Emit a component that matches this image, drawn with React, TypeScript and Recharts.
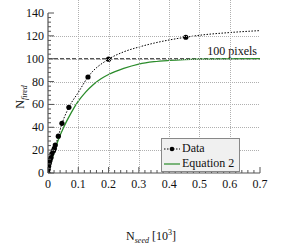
import React from "react";
import {
  ComposedChart,
  Line,
  Scatter,
  XAxis,
  YAxis,
  ReferenceLine,
  Legend,
} from "recharts";

// measured points (N_seed in 10^3, N_fired)
const seedData = [0, 0.001, 0.002, 0.004, 0.0066, 0.01, 0.013, 0.018, 0.021, 0.024, 0.034, 0.046, 0.069, 0.132, 0.2, 0.455];
const firedData = [0, 3.5, 6, 8.5, 11, 13.5, 17, 19.5, 21.5, 24.5, 32.2, 43.5, 57.5, 84, 99.6, 118.8];

// dotted curve through the data
const seedCurve = [0, 0.01, 0.02, 0.034, 0.046, 0.069, 0.1, 0.132, 0.2, 0.25, 0.3, 0.4, 0.455, 0.5, 0.6, 0.7];
const firedCurve = [0, 13, 20.5, 32, 43, 57.5, 70.5, 84, 99.6, 106, 110.2, 116.4, 118.8, 120.5, 122.9, 124.6];

// Equation 2
const seedEq = [0, 0.01, 0.02, 0.03, 0.04, 0.05, 0.06, 0.075, 0.1, 0.125, 0.15, 0.175, 0.2, 0.25, 0.3, 0.35, 0.4, 0.45, 0.5, 0.6, 0.7];
const firedEq = [0, 9.5, 18, 26, 33, 39, 44.5, 52, 62.8, 71, 77.5, 82.5, 86.2, 91.5, 95.3, 97.4, 98.5, 99.2, 99.6, 99.9, 100];

const xMajor = [0, 0.1, 0.2, 0.3, 0.4, 0.5, 0.6, 0.7];
const xLabels = ["0", "0.1", "0.2", "0.3", "0.4", "0.5", "0.6", "0.7"];
const yMajor = [0, 20, 40, 60, 80, 100, 120, 140];
const xTicks = Array.from({ length: 36 }, (_, i) => Math.round(i * 2) / 100);
const yTicks = Array.from({ length: 36 }, (_, i) => i * 4);

const SATURATION = 100;
const SAT_LABEL = "100 pixels";

const dataPts = seedData.map((x, i) => ({ x, y: firedData[i] }));
const curvePts = seedCurve.map((x, i) => ({ x, y: firedCurve[i] }));
const eqPts = seedEq.map((x, i) => ({ x, y: firedEq[i] }));

const W = 283;
const H = 247;
const M = { top: 13, right: 23, left: 0, bottom: 0 };
const Y_AXIS_W = 48;
const X_AXIS_H = 40;
const PLOT_W = W - M.left - M.right - Y_AXIS_W;
const PLOT_H = H - M.top - M.bottom - X_AXIS_H;

const FONT = "Liberation Serif, Times New Roman, Times, serif";
const AXIS = "#555";
const GREEN = "#2b8c2b";
const GRID = "#b0b0b0";
const txt = { fontFamily: FONT };

const majorIndex = (v: number, majors: number[]) => majors.findIndex((m) => Math.abs(m - v) < 1e-6);
const crisp = (v: number) => Math.round(v) + 0.5;

const XTick = (props: any) => {
  const { x, y, payload } = props;
  const idx = majorIndex(payload.value, xMajor);
  const major = idx >= 0;
  const inner = idx > 0 && idx < xMajor.length - 1;
  return (
    <g>
      {inner && (
        <path d={`M${crisp(x)},${y}V${y - PLOT_H}`} stroke={GRID} strokeWidth={1} strokeDasharray="1 1" fill="none" />
      )}
      <line x1={x} x2={x} y1={y} y2={y - (major ? 6 : 3)} stroke={AXIS} strokeWidth={1} />
      {major && (
        <text x={x} y={y + 15} textAnchor="middle" style={txt} fontSize={12} fill="#111">
          {xLabels[idx]}
        </text>
      )}
    </g>
  );
};

const YTick = (props: any) => {
  const { x, y, payload } = props;
  const idx = majorIndex(payload.value, yMajor);
  const major = idx >= 0;
  const inner = idx > 0 && idx < yMajor.length - 1;
  return (
    <g>
      {inner && (
        <path d={`M${x},${crisp(y)}H${x + PLOT_W}`} stroke={GRID} strokeWidth={1} strokeDasharray="1 1" fill="none" />
      )}
      <line x1={x} x2={x + (major ? 6 : 3)} y1={y} y2={y} stroke={AXIS} strokeWidth={1} />
      {major && (
        <text x={x - 4} y={y + 4} textAnchor="end" style={txt} fontSize={12} fill="#111">
          {payload.value}
        </text>
      )}
    </g>
  );
};

const LegendBox = () => (
  <div
    style={{
      width: 79,
      height: 34,
      boxSizing: "border-box",
      background: "#f0f0f0",
      border: "1px solid #888",
      fontFamily: FONT,
      fontSize: 12,
      color: "#111",
      padding: "2px 0 0 1px",
    }}
  >
    <div style={{ display: "flex", alignItems: "center", height: 15 }}>
      <svg width={18} height={10}>
        <line x1={1} x2={17} y1={5} y2={5} stroke="#000" strokeDasharray="1.5 1.5" />
        <circle cx={9} cy={5} r={2.3} fill="#000" />
      </svg>
      <span style={{ marginLeft: 1 }}>Data</span>
    </div>
    <div style={{ display: "flex", alignItems: "center", height: 15 }}>
      <svg width={18} height={10}>
        <line x1={1} x2={17} y1={5} y2={5} stroke={GREEN} strokeWidth={1.2} />
      </svg>
      <span style={{ marginLeft: 1 }}>Equation 2</span>
    </div>
  </div>
);

export default function App() {
  return (
    <div style={{ position: "absolute", left: 0, top: 0 }}>
      <ComposedChart width={W} height={H} margin={M}>
        <XAxis
          xAxisId="b"
          type="number"
          dataKey="x"
          domain={[0, 0.7]}
          ticks={xTicks}
          interval={0}
          height={X_AXIS_H}
          tickSize={0}
          tickMargin={0}
          tickLine={false}
          axisLine={{ stroke: AXIS, strokeWidth: 1.2 }}
          tick={<XTick />}
          allowDataOverflow
          label={{
            content: () => (
              <text x={151} y={240} textAnchor="middle" style={txt} fontSize={12} fill="#111">
                N
                <tspan fontSize={8} fontStyle="italic" dy={3}>seed</tspan>
                <tspan dy={-3}> [10</tspan>
                <tspan fontSize={8} dy={-5}>3</tspan>
                <tspan dy={5}>]</tspan>
              </text>
            ),
          }}
        />
        <XAxis xAxisId="t" orientation="top" type="number" domain={[0, 0.7]} height={0} tick={false} tickLine={false} axisLine={{ stroke: AXIS, strokeWidth: 1.2 }} />
        <YAxis
          yAxisId="l"
          type="number"
          domain={[0, 140]}
          ticks={yTicks}
          interval={0}
          width={Y_AXIS_W}
          tickSize={0}
          tickMargin={0}
          tickLine={false}
          axisLine={{ stroke: AXIS, strokeWidth: 1.2 }}
          tick={<YTick />}
          allowDataOverflow
          label={{
            content: () => (
              <text
                transform="translate(24,97) rotate(-90)"
                textAnchor="middle"
                style={txt}
                fontSize={12}
                fill="#111"
              >
                N
                <tspan fontSize={8} fontStyle="italic" dy={3}>fired</tspan>
              </text>
            ),
          }}
        />
        <YAxis yAxisId="r" orientation="right" type="number" domain={[0, 140]} width={0} tick={false} tickLine={false} axisLine={{ stroke: AXIS, strokeWidth: 1.2 }} />
        <ReferenceLine
          xAxisId="b"
          yAxisId="l"
          y={SATURATION}
          stroke="#555"
          strokeWidth={1.4}
          strokeDasharray="4 2"
          label={{
            content: (p: any) => (
              <text
                x={p.viewBox.x + p.viewBox.width - 3}
                y={p.viewBox.y - 4}
                textAnchor="end"
                style={txt}
                fontSize={12}
                fill="#111"
              >
                {SAT_LABEL}
              </text>
            ),
          }}
        />
        <Line
          xAxisId="b"
          yAxisId="l"
          data={eqPts}
          dataKey="y"
          type="monotone"
          stroke={GREEN}
          strokeWidth={1.3}
          dot={false}
          isAnimationActive={false}
        />
        <Line
          xAxisId="b"
          yAxisId="l"
          data={curvePts}
          dataKey="y"
          type="monotone"
          stroke="#000"
          strokeWidth={1}
          strokeDasharray="1.5 1.5"
          dot={false}
          isAnimationActive={false}
        />
        <Scatter
          xAxisId="b"
          yAxisId="l"
          data={dataPts}
          dataKey="y"
          fill="#000"
          isAnimationActive={false}
          shape={(p: any) => <circle cx={p.cx} cy={p.cy} r={2.6} fill="#000" />}
        />
        <Legend
          content={<LegendBox />}
          wrapperStyle={{ position: "absolute", left: 161, top: 138, width: 79, height: 34, bottom: "auto", right: "auto" }}
        />
      </ComposedChart>
    </div>
  );
}
